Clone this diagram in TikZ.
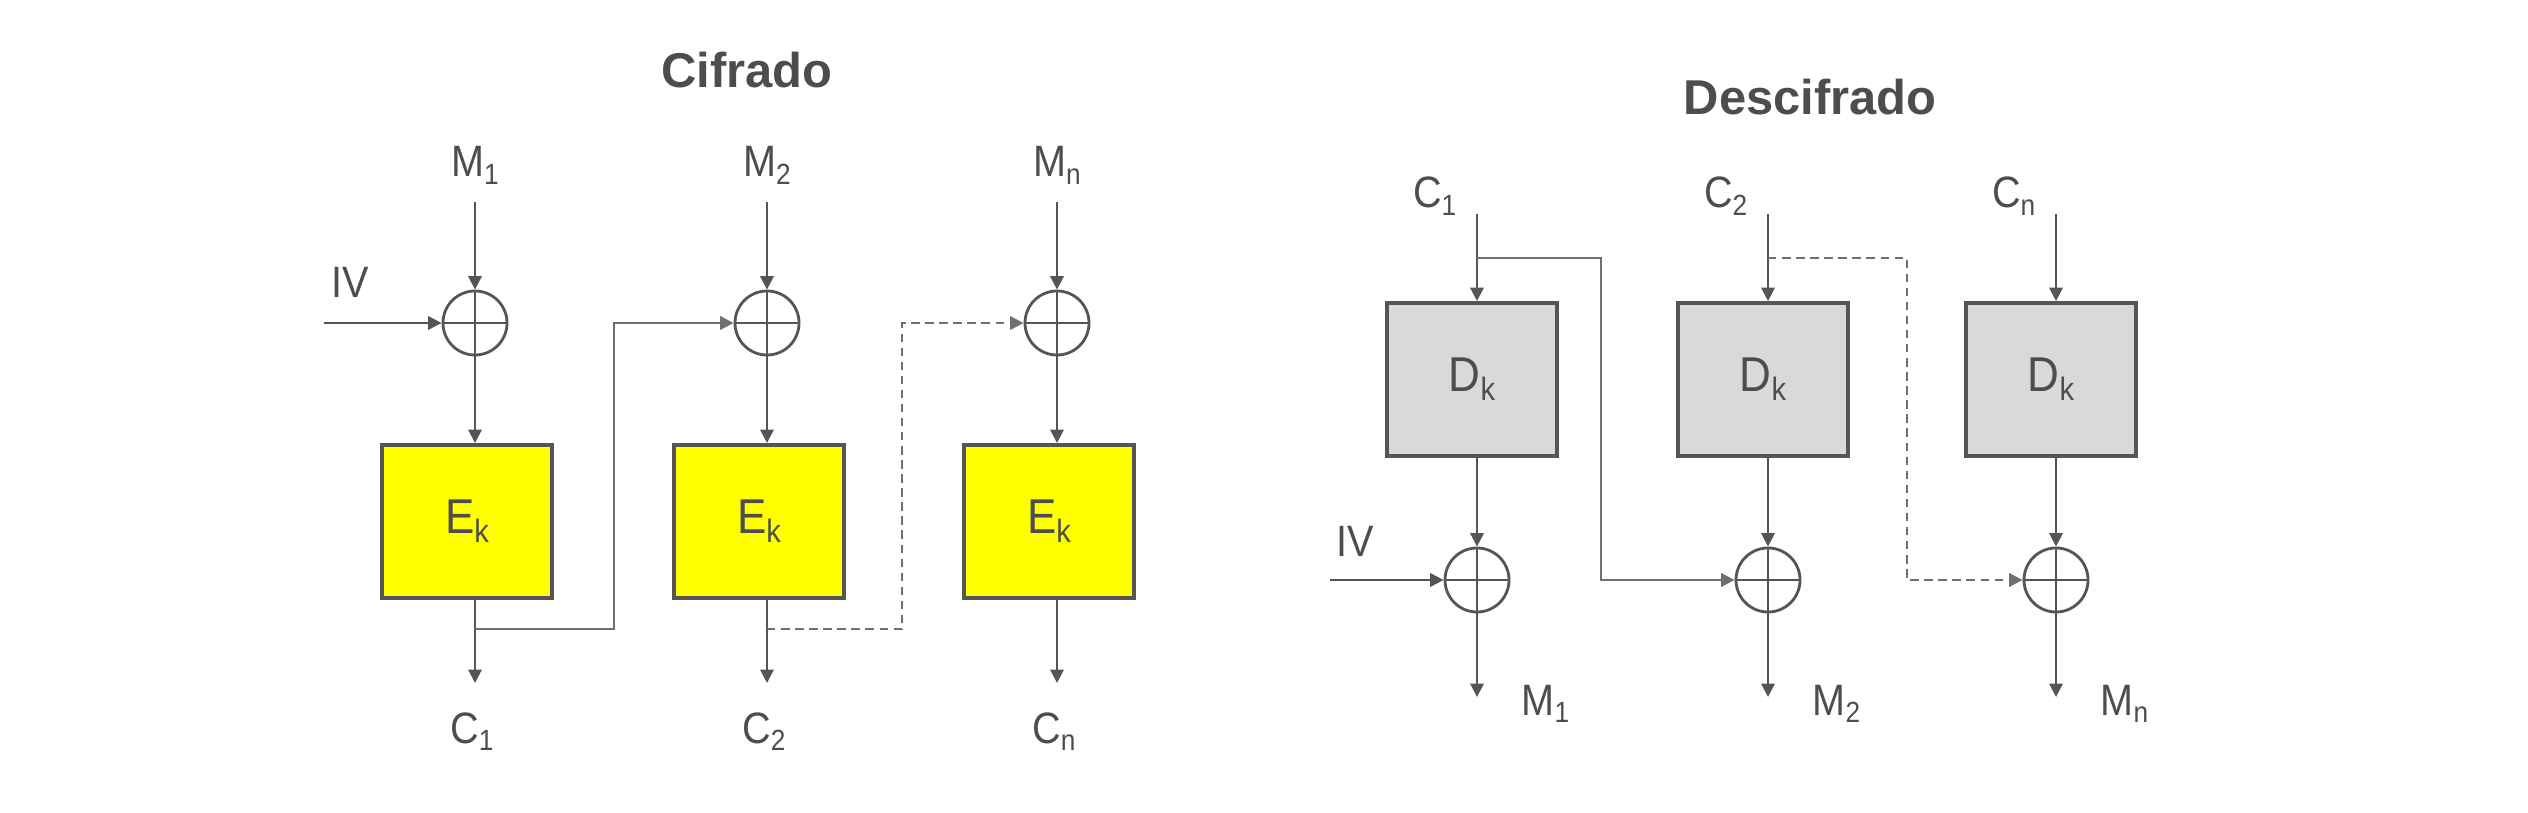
\documentclass[tikz,border=0pt]{standalone}
\usepackage{fontspec}
\setmainfont{Liberation Sans}
\newfontfamily\lblfont[FakeStretch=0.9]{Liberation Sans}
\usetikzlibrary{arrows.meta}
\definecolor{txt}{HTML}{4D4D4D}
\definecolor{ln}{HTML}{555555}
\definecolor{fb}{HTML}{707070}
\definecolor{ylw}{HTML}{FFFF00}
\definecolor{gbox}{HTML}{D9D9D9}
\newcommand\lsub[1]{\raisebox{-2.2pt}{\fontsize{8.3pt}{9pt}\selectfont #1}}
\newcommand\bsub[1]{\raisebox{-2.6pt}{\fontsize{9.2pt}{10pt}\selectfont #1}}
\begin{document}
\begin{tikzpicture}[x=0.01cm,y=-0.01cm,
  lbl/.style={text=txt,font=\lblfont\fontsize{12.5pt}{14pt}\selectfont,inner sep=0pt},
  ttl/.style={text=txt,font=\bfseries\fontsize{13.9pt}{16pt}\selectfont,inner sep=0pt,anchor=base},
  ebox/.style={draw=ln,line width=1.1pt,fill=ylw,minimum width=1.7cm,minimum height=1.53cm,inner sep=0pt,text=txt,font=\lblfont\fontsize{13.9pt}{16pt}\selectfont},
  dbox/.style={ebox,fill=gbox},
  xor/.style={circle,draw=ln,line width=0.8pt,minimum size=0.64cm,inner sep=0pt,
    path picture={\draw[ln,line width=0.8pt] (path picture bounding box.north) -- (path picture bounding box.south) (path picture bounding box.west) -- (path picture bounding box.east);}},
  arr/.style={draw=ln,line width=0.6pt,-{Triangle[length=3.8pt,width=3.8pt]}},
  fbl/.style={draw=fb,line width=0.6pt,-{Triangle[length=3.8pt,width=3.8pt]}},
  dsh/.style={dash pattern=on 2.4pt off 1.6pt}
]
\useasboundingbox (0,0) rectangle (2528,813);

% ---------- Cifrado ----------
\node[ttl] (t1) at (747,88) {Cifrado};
\foreach \i/\x/\s in {1/475/1,2/767/2,3/1057/n}{
  \node[xor] (x\i) at (\x,323) {};
  \node[ebox] (e\i) at (\x-8,521.5) {E\bsub{k}};
  \node[lbl,anchor=base] (m\i) at (\x,177) {M\lsub{\s}};
  \coordinate (mi\i) at (\x,202);
  \draw[arr] (mi\i) -- (x\i.north);
  \draw[arr] (x\i.south) -- (x\i.south |- e\i.north);
  \coordinate (co\i) at (\x,683);
  \draw[arr] (x\i |- e\i.south) -- (co\i);
  \node[lbl,anchor=base] (c\i) at (\x-3,743) {C\lsub{\s}};
}
\node[lbl,anchor=base] (iv1) at (350,298) {IV};
\coordinate (ivs1) at (324,323);
\draw[arr] (ivs1) -- (x1.west);
\coordinate (f1a) at (614,629);
\coordinate (f1b) at (614,323);
\draw[fbl] (x1 |- f1a) -- (f1a) -- (f1b) -- (x2.west);
\coordinate (f2a) at (902,629);
\coordinate (f2b) at (902,323);
\draw[fbl,dsh] (x2 |- f2a) -- (f2a) -- (f2b) -- (x3.west);

% ---------- Descifrado ----------
\node[ttl] (t2) at (1810,115) {Descifrado};
\foreach \i/\x/\s in {1/1477/1,2/1768/2,3/2056/n}{
  \node[dbox] (d\i) at (\x-5,379.5) {D\bsub{k}};
  \node[xor] (y\i) at (\x,580) {};
  \node[lbl,anchor=base east] (k\i) at (\x-20,208) {C\lsub{\s}};
  \coordinate (ki\i) at (\x,214);
  \draw[arr] (ki\i) -- (ki\i |- d\i.north);
  \draw[arr] (ki\i |- d\i.south) -- (y\i.north);
  \coordinate (mo\i) at (\x,697);
  \draw[arr] (y\i.south) -- (mo\i);
  \node[lbl,anchor=base west] (n\i) at (\x+44,715) {M\lsub{\s}};
}
\node[lbl,anchor=base] (iv2) at (1355,557) {IV};
\coordinate (ivs2) at (1330,580);
\draw[arr] (ivs2) -- (y1.west);
\coordinate (g1a) at (1601,258);
\coordinate (g1b) at (1601,580);
\draw[fbl] (ki1 |- g1a) -- (g1a) -- (g1b) -- (y2.west);
\coordinate (g2a) at (1907,258);
\coordinate (g2b) at (1907,580);
\draw[fbl,dsh] (ki2 |- g2a) -- (g2a) -- (g2b) -- (y3.west);
\end{tikzpicture}
\end{document}
